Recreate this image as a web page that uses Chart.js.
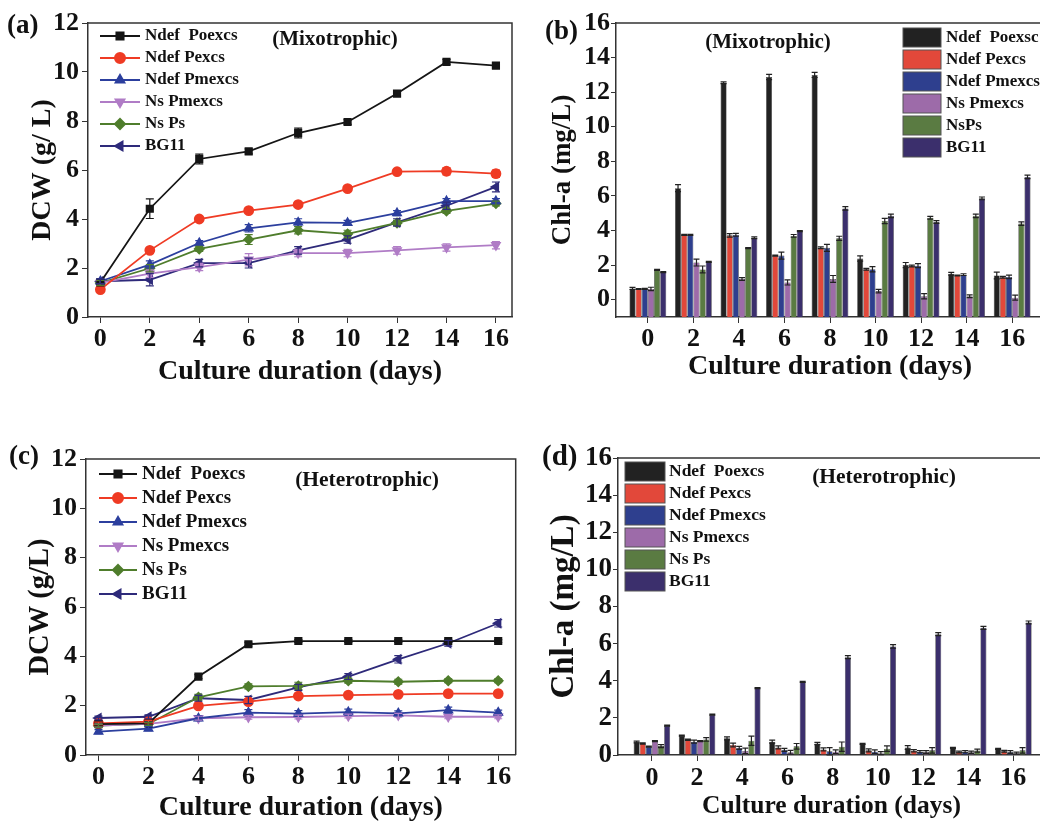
<!DOCTYPE html>
<html lang="en">
<head>
<meta charset="utf-8">
<title>DCW and Chl-a, mixotrophic and heterotrophic</title>
<script src="https://cdn.jsdelivr.net/npm/chart.js@4.4.1/dist/chart.umd.min.js"></script>
<style>
  html, body { margin: 0; padding: 0; background: #fff; overflow: hidden; }
  body { width: 1040px; height: 822px; position: relative; }
  .panel { position: absolute; }
  .tag { position: absolute; font: bold 27px "Liberation Serif", "Times New Roman", serif; color: #111; line-height: 1; }
</style>
</head>
<body>
<div class="panel" style="left:0;top:0;width:525px;height:395px"><canvas id="chartA"></canvas></div>
<div class="panel" style="left:520px;top:0;width:540px;height:395px"><canvas id="chartB"></canvas></div>
<div class="panel" style="left:0;top:430px;width:522px;height:398px"><canvas id="chartC"></canvas></div>
<div class="panel" style="left:520px;top:430px;width:540px;height:398px"><canvas id="chartD"></canvas></div>
<div class="tag" style="left:7px;top:11px">(a)</div>
<div class="tag" style="left:545px;top:17px">(b)</div>
<div class="tag" style="left:9px;top:442px">(c)</div>
<div class="tag" style="left:542px;top:441px;font-size:29px">(d)</div>

<script>
// ---- data ----
const days = [0, 2, 4, 6, 8, 10, 12, 14, 16];
const lineNames = ['Ndef  Poexcs', 'Ndef Pexcs', 'Ndef Pmexcs', 'Ns Pmexcs', 'Ns Ps', 'BG11'];
const barNamesB = ['Ndef  Poexsc', 'Ndef Pexcs', 'Ndef Pmexcs', 'Ns Pmexcs', 'NsPs', 'BG11'];

// (a) DCW, mixotrophic (g/L)
const mixDcwPoexcs = [1.41, 4.42, 6.45, 6.76, 7.51, 7.96, 9.12, 10.41, 10.26];
const mixDcwPexcs  = [1.12, 2.72, 4.00, 4.34, 4.59, 5.24, 5.93, 5.95, 5.85];
const mixDcwPmexcs = [1.46, 2.14, 3.02, 3.62, 3.86, 3.84, 4.24, 4.73, 4.73];
const mixDcwNsPm   = [1.39, 1.77, 2.04, 2.34, 2.61, 2.61, 2.72, 2.84, 2.93];
const mixDcwNsPs   = [1.39, 1.99, 2.78, 3.16, 3.54, 3.39, 3.84, 4.33, 4.63];
const mixDcwBG11   = [1.46, 1.52, 2.20, 2.20, 2.72, 3.16, 3.86, 4.54, 5.31];
const mixDcwErr = [
  [0.10, 0.40, 0.20, 0.10, 0.20, 0.10, 0.10, 0.10, 0.10],
  [0.08, 0.10, 0.10, 0.10, 0.10, 0.10, 0.10, 0.15, 0.15],
  [0.10, 0.15, 0.10, 0.15, 0.15, 0.10, 0.10, 0.10, 0.10],
  [0.10, 0.15, 0.15, 0.25, 0.15, 0.15, 0.15, 0.15, 0.15],
  [0.10, 0.15, 0.10, 0.20, 0.15, 0.15, 0.10, 0.10, 0.10],
  [0.10, 0.25, 0.15, 0.20, 0.15, 0.15, 0.15, 0.15, 0.20]
];

// (b) Chl-a, mixotrophic (mg/L)
const mixChlPoexcs = [0.65, 6.45, 12.55, 12.88, 13.00, 2.38, 2.00, 1.50, 1.40];
const mixChlPexcs  = [0.62, 3.75, 3.72, 2.55, 3.00, 1.76, 1.95, 1.40, 1.30];
const mixChlPmexcs = [0.63, 3.75, 3.75, 2.55, 3.00, 1.76, 1.97, 1.45, 1.32];
const mixChlNsPm   = [0.62, 2.15, 1.20, 1.00, 1.20, 0.50, 0.20, 0.20, 0.12];
const mixChlNsPs   = [1.72, 1.75, 2.98, 3.69, 3.55, 4.55, 4.74, 4.85, 4.40];
const mixChlBG11   = [1.60, 2.19, 3.58, 3.96, 5.28, 4.85, 4.49, 5.86, 7.10];
const mixChlErr = [
  [0.06, 0.20, 0.05, 0.15, 0.15, 0.15, 0.15, 0.08, 0.20],
  [0.02, 0.03, 0.10, 0.03, 0.05, 0.05, 0.05, 0.03, 0.05],
  [0.03, 0.03, 0.08, 0.20, 0.20, 0.15, 0.12, 0.05, 0.10],
  [0.10, 0.20, 0.08, 0.15, 0.20, 0.10, 0.15, 0.08, 0.15],
  [0.03, 0.20, 0.03, 0.08, 0.12, 0.15, 0.08, 0.10, 0.10],
  [0.03, 0.03, 0.05, 0.03, 0.10, 0.10, 0.08, 0.08, 0.10]
];

// (c) DCW, heterotrophic (g/L)
const hetDcwPoexcs = [1.25, 1.28, 3.18, 4.49, 4.62, 4.62, 4.62, 4.62, 4.62];
const hetDcwPexcs  = [1.28, 1.35, 1.99, 2.16, 2.39, 2.43, 2.46, 2.49, 2.49];
const hetDcwPmexcs = [0.95, 1.07, 1.49, 1.72, 1.68, 1.74, 1.69, 1.82, 1.72];
const hetDcwNsPm   = [1.19, 1.26, 1.49, 1.53, 1.54, 1.58, 1.61, 1.55, 1.55];
const hetDcwNsPs   = [1.19, 1.26, 2.34, 2.78, 2.80, 3.01, 2.97, 3.01, 3.01];
const hetDcwBG11   = [1.50, 1.55, 2.30, 2.23, 2.74, 3.18, 3.88, 4.53, 5.34];
const hetDcwErr = [
  [0.05, 0.05, 0.08, 0.08, 0.06, 0.06, 0.06, 0.06, 0.06],
  [0.05, 0.05, 0.08, 0.08, 0.08, 0.06, 0.06, 0.06, 0.06],
  [0.08, 0.08, 0.10, 0.12, 0.12, 0.12, 0.10, 0.12, 0.10],
  [0.06, 0.06, 0.08, 0.08, 0.08, 0.08, 0.08, 0.08, 0.08],
  [0.06, 0.06, 0.12, 0.10, 0.15, 0.10, 0.10, 0.08, 0.08],
  [0.08, 0.08, 0.12, 0.15, 0.12, 0.12, 0.15, 0.12, 0.15]
];

// (d) Chl-a, heterotrophic (mg/L)
const hetChlPoexcs = [0.70, 1.04, 0.90, 0.72, 0.62, 0.60, 0.40, 0.38, 0.33];
const hetChlPexcs  = [0.62, 0.82, 0.54, 0.41, 0.30, 0.25, 0.23, 0.16, 0.20];
const hetChlPmexcs = [0.45, 0.72, 0.38, 0.28, 0.20, 0.18, 0.18, 0.18, 0.16];
const hetChlNsPm   = [0.75, 0.75, 0.22, 0.15, 0.18, 0.10, 0.16, 0.15, 0.10];
const hetChlNsPs   = [0.48, 0.84, 0.77, 0.47, 0.45, 0.34, 0.25, 0.24, 0.25];
const hetChlBG11   = [1.58, 2.18, 3.60, 3.94, 5.27, 5.85, 6.51, 6.85, 7.14];
const hetChlErr = [
  [0.05, 0.03, 0.08, 0.08, 0.06, 0.03, 0.10, 0.03, 0.03],
  [0.03, 0.03, 0.10, 0.08, 0.08, 0.08, 0.06, 0.05, 0.05],
  [0.03, 0.08, 0.08, 0.08, 0.20, 0.10, 0.06, 0.06, 0.08],
  [0.03, 0.03, 0.15, 0.10, 0.10, 0.08, 0.08, 0.06, 0.05],
  [0.08, 0.10, 0.25, 0.15, 0.25, 0.15, 0.15, 0.08, 0.15],
  [0.03, 0.03, 0.03, 0.03, 0.08, 0.10, 0.08, 0.08, 0.08]
];

// ---- styling ----
const serif = '"Liberation Serif", "Times New Roman", serif';
const lineColors = ['#151515', '#ef3b24', '#2c3f9e', '#b07cc6', '#4f7d2c', '#2e2a7a'];
const barColors  = ['#222222', '#e2483a', '#2e3f8e', '#9d6ba9', '#5a7b42', '#3b2f6c'];
const markers   = ['rect', 'circle', 'triangle', 'triangle', 'rectRot', 'triangle'];
const rotations = [0, 0, 0, 180, 0, 270];

Chart.defaults.color = '#111';
Chart.defaults.font.family = serif;

function boldFont(size) { return { family: serif, weight: 'bold', size: size }; }

// error bars drawn through the value scale
const errorBars = {
  id: 'errorBars',
  afterDatasetsDraw(chart, args, opts) {
    const ctx = chart.ctx, ys = chart.scales.y;
    chart.data.datasets.forEach((ds, di) => {
      if (!ds.errors) return;
      const meta = chart.getDatasetMeta(di);
      ctx.save();
      ctx.strokeStyle = opts.color || ds.borderColor;
      ctx.lineWidth = 1.2;
      meta.data.forEach((el, i) => {
        const e = ds.errors[i];
        if (!e) return;
        const v = ds.data[i].y;
        const top = ys.getPixelForValue(v + e), bot = ys.getPixelForValue(v - e);
        const w = opts.cap || 4;
        ctx.beginPath();
        ctx.moveTo(el.x, top); ctx.lineTo(el.x, bot);
        ctx.moveTo(el.x - w, top); ctx.lineTo(el.x + w, top);
        ctx.moveTo(el.x - w, bot); ctx.lineTo(el.x + w, bot);
        ctx.stroke();
      });
      ctx.restore();
    });
  }
};

function drawMarker(ctx, style, rot, r, x, y) {
  if (Chart.helpers && Chart.helpers.drawPoint) {
    Chart.helpers.drawPoint(ctx, { pointStyle: style, rotation: rot, radius: r, borderWidth: 1 }, x, y);
  } else {
    ctx.beginPath(); ctx.arc(x, y, r, 0, Math.PI * 2); ctx.fill(); ctx.stroke();
  }
}

// legend + note + frame inside the plot
const inPlot = {
  id: 'inPlot',
  afterDraw(chart, args, o) {
    const ctx = chart.ctx, ca = chart.chartArea;
    ctx.save();
    // frame (top and right edges)
    ctx.strokeStyle = '#333';
    ctx.lineWidth = 1.5;
    ctx.beginPath();
    ctx.moveTo(ca.left, ca.top); ctx.lineTo(ca.right, ca.top); ctx.lineTo(ca.right, ca.bottom);
    ctx.stroke();
    // note
    if (o.note) {
      ctx.font = 'bold ' + o.noteSize + 'px ' + serif;
      ctx.textAlign = 'center';
      ctx.textBaseline = 'middle';
      ctx.fillStyle = '#111';
      ctx.fillText(o.note, o.noteX, o.noteY);
    }
    // legend
    ctx.textAlign = 'left';
    ctx.textBaseline = 'middle';
    ctx.font = 'bold ' + o.size + 'px ' + serif;
    chart.data.datasets.forEach((ds, i) => {
      const cy = o.y + i * o.gap;
      if (o.kind === 'box') {
        ctx.fillStyle = ds.backgroundColor;
        ctx.fillRect(o.x, cy - o.h / 2, o.w, o.h);
        ctx.strokeStyle = '#555';
        ctx.lineWidth = 1;
        ctx.strokeRect(o.x, cy - o.h / 2, o.w, o.h);
      } else {
        ctx.strokeStyle = ds.borderColor;
        ctx.lineWidth = 2;
        ctx.beginPath(); ctx.moveTo(o.x, cy); ctx.lineTo(o.x + o.w, cy); ctx.stroke();
        ctx.fillStyle = ds.pointBackgroundColor;
        ctx.strokeStyle = ds.pointBorderColor;
        drawMarker(ctx, ds.pointStyle, ds.pointRotation, 5, o.x + o.w / 2, cy);
      }
      ctx.fillStyle = '#111';
      ctx.fillText(ds.label, o.tx, cy);
    });
    ctx.restore();
  }
};

function lineSets(series, errs) {
  return series.map((vals, i) => ({
    label: lineNames[i],
    data: days.map((d, k) => ({ x: d, y: vals[k] })),
    errors: errs[i],
    borderColor: lineColors[i],
    backgroundColor: lineColors[i],
    pointBackgroundColor: lineColors[i],
    pointBorderColor: lineColors[i],
    pointStyle: markers[i],
    pointRotation: rotations[i],
    pointRadius: 4.5,
    borderWidth: 1.8,
    tension: 0
  }));
}

function barSets(series, errs, names, base) {
  return series.map((vals, i) => {
    const ds = {
      label: names[i],
      data: days.map((d, k) => ({ x: d, y: vals[k] })),
      errors: errs[i],
      backgroundColor: barColors[i],
      borderColor: '#333',
      borderWidth: 0.6,
      categoryPercentage: 0.81,
      barPercentage: 0.98
    };
    if (base !== undefined) ds.base = base;
    return ds;
  });
}

function axes(cfg) {
  return {
    x: {
      type: 'linear', min: cfg.xMin, max: cfg.xMax, offset: false,
      afterBuildTicks: s => { s.ticks = days.map(v => ({ value: v })); },
      afterFit: s => { s.height = cfg.xH; },
      ticks: { font: boldFont(26), padding: cfg.xPad, maxRotation: 0, autoSkip: false },
      grid: { offset: false, drawOnChartArea: false, drawTicks: true, tickLength: 6, color: '#333' },
      border: { color: '#333', width: 1.5 },
      title: { display: true, text: 'Culture duration (days)', font: boldFont(cfg.xTitleSize), padding: { top: 0, bottom: cfg.xTitlePad } }
    },
    y: {
      min: cfg.yMin, max: cfg.yMax,
      afterBuildTicks: s => { s.ticks = cfg.yTicks.map(v => ({ value: v })); },
      afterFit: s => { s.width = cfg.yW; },
      ticks: { font: boldFont(cfg.yTickSize), padding: cfg.yPad, callback: v => (v % 2 === 0 ? v : '') },
      grid: { drawOnChartArea: false, drawTicks: true, tickLength: cfg.yTick, color: '#333' },
      border: { color: '#333', width: 1.5 },
      title: { display: true, text: cfg.yTitle, font: boldFont(cfg.yTitleSize), padding: { top: cfg.yTitlePad, bottom: 0 } }
    }
  };
}

const dcwTicks = [0, 1, 2, 3, 4, 5, 6, 7, 8, 9, 10, 11, 12];
const chlTicks = [0, 1, 2, 3, 4, 5, 6, 7, 8, 9, 10, 11, 12, 13, 14, 15, 16];

// (a)
new Chart(document.getElementById('chartA'), {
  type: 'line',
  data: { datasets: lineSets([mixDcwPoexcs, mixDcwPexcs, mixDcwPmexcs, mixDcwNsPm, mixDcwNsPs, mixDcwBG11], mixDcwErr) },
  options: {
    responsive: true, maintainAspectRatio: false, animation: false,
    layout: { padding: { left: 0, top: 23, right: 13, bottom: 0 } },
    scales: axes({ xMin: -0.5, xMax: 16.65, xH: 78, xPad: 1, xTitleSize: 28, xTitlePad: 6,
                   yMin: 0, yMax: 12, yTicks: dcwTicks, yW: 88, yPad: 3, yTick: 6, yTickSize: 26,
                   yTitle: 'DCW (g/ L)', yTitleSize: 28, yTitlePad: 26 }),
    plugins: {
      legend: { display: false }, tooltip: { enabled: false },
      errorBars: { cap: 4 },
      inPlot: { kind: 'line', x: 100, w: 40, y: 36, gap: 22, tx: 145, size: 17,
                note: '(Mixotrophic)', noteX: 335, noteY: 40, noteSize: 21 }
    }
  },
  plugins: [errorBars, inPlot]
});

// (b)
new Chart(document.getElementById('chartB'), {
  type: 'bar',
  data: { datasets: barSets([mixChlPoexcs, mixChlPexcs, mixChlPmexcs, mixChlNsPm, mixChlNsPs, mixChlBG11], mixChlErr, barNamesB, -1) },
  options: {
    responsive: true, maintainAspectRatio: false, animation: false,
    layout: { padding: { left: 0, top: 23, right: 16, bottom: 0 } },
    scales: axes({ xMin: -1.4, xMax: 17.4, xH: 78, xPad: 1, xTitleSize: 28, xTitlePad: 11,
                   yMin: -1, yMax: 16, yTicks: chlTicks, yW: 96, yPad: 1, yTick: 5, yTickSize: 26,
                   yTitle: 'Chl-a (mg/L)', yTitleSize: 27, yTitlePad: 27 }),
    plugins: {
      legend: { display: false }, tooltip: { enabled: false },
      errorBars: { cap: 3, color: '#222' },
      inPlot: { kind: 'box', x: 383, w: 38, h: 19, y: 37.5, gap: 22, tx: 426, size: 17,
                note: '(Mixotrophic)', noteX: 248, noteY: 43, noteSize: 21 }
    }
  },
  plugins: [errorBars, inPlot]
});

// (c)
new Chart(document.getElementById('chartC'), {
  type: 'line',
  data: { datasets: lineSets([hetDcwPoexcs, hetDcwPexcs, hetDcwPmexcs, hetDcwNsPm, hetDcwNsPs, hetDcwBG11], hetDcwErr) },
  options: {
    responsive: true, maintainAspectRatio: false, animation: false,
    layout: { padding: { left: 0, top: 29, right: 1, bottom: 0 } },
    scales: axes({ xMin: -0.5, xMax: 16.7, xH: 73, xPad: 1, xTitleSize: 28, xTitlePad: 3,
                   yMin: 0, yMax: 12, yTicks: dcwTicks, yW: 86, yPad: 3, yTick: 6, yTickSize: 26,
                   yTitle: 'DCW (g/L)', yTitleSize: 28.5, yTitlePad: 24 }),
    plugins: {
      legend: { display: false }, tooltip: { enabled: false },
      errorBars: { cap: 4 },
      inPlot: { kind: 'line', x: 99, w: 38, y: 44, gap: 24, tx: 142, size: 19,
                note: '(Heterotrophic)', noteX: 367, noteY: 50, noteSize: 21.5 }
    }
  },
  plugins: [errorBars, inPlot]
});

// (d)
new Chart(document.getElementById('chartD'), {
  type: 'bar',
  data: { datasets: barSets([hetChlPoexcs, hetChlPexcs, hetChlPmexcs, hetChlNsPm, hetChlNsPs, hetChlBG11], hetChlErr, lineNames) },
  options: {
    responsive: true, maintainAspectRatio: false, animation: false,
    layout: { padding: { left: 0, top: 28, right: 15, bottom: 0 } },
    scales: axes({ xMin: -1.5, xMax: 17.4, xH: 73, xPad: 2, xTitleSize: 25.5, xTitlePad: 6,
                   yMin: 0, yMax: 16, yTicks: chlTicks, yW: 98, yPad: 1, yTick: 5, yTickSize: 27,
                   yTitle: 'Chl-a (mg/L)', yTitleSize: 33, yTitlePad: 25 }),
    plugins: {
      legend: { display: false }, tooltip: { enabled: false },
      errorBars: { cap: 3, color: '#222' },
      inPlot: { kind: 'box', x: 105, w: 40, h: 19, y: 41.5, gap: 22, tx: 149, size: 17.5,
                note: '(Heterotrophic)', noteX: 364, noteY: 47, noteSize: 21.5 }
    }
  },
  plugins: [errorBars, inPlot]
});
</script>
</body>
</html>
